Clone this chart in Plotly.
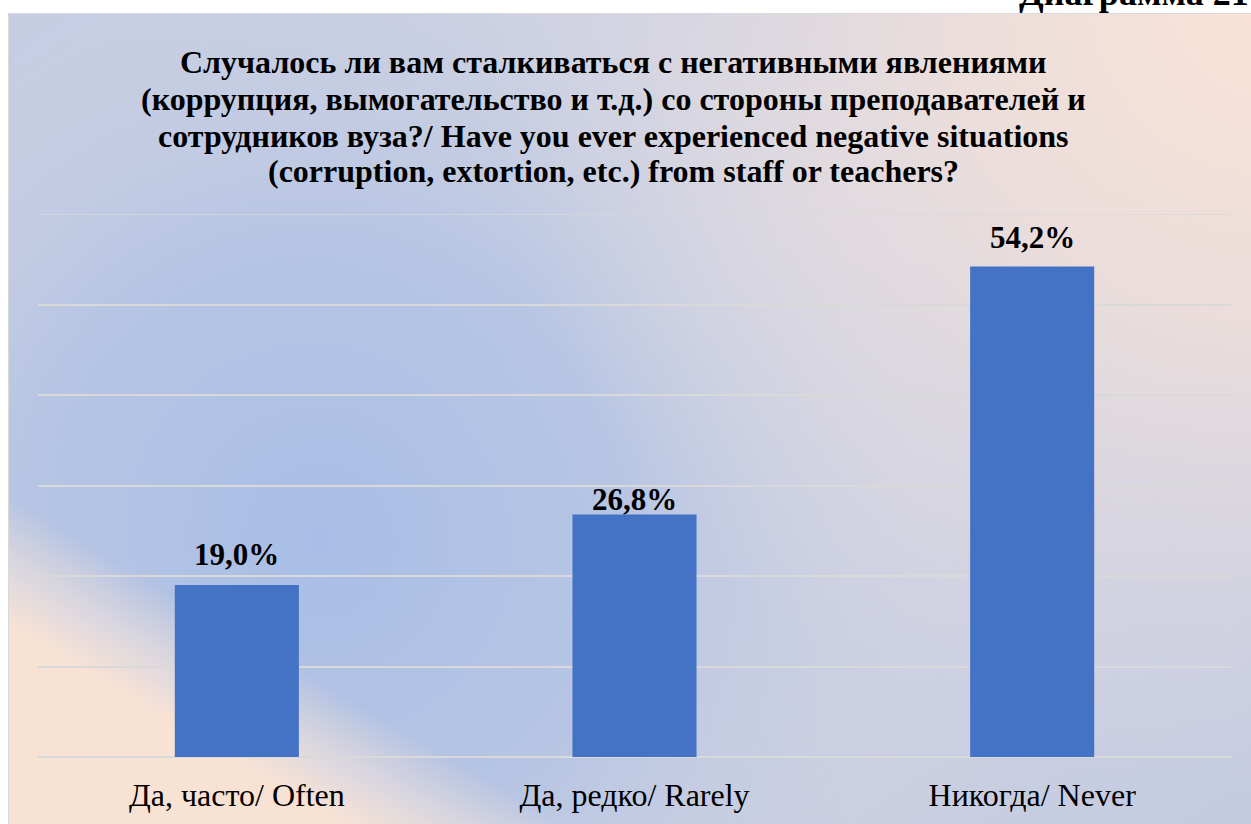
import base64
import plotly.graph_objects as go

# ---- data ----
categories = ["Да, часто/ Often", "Да, редко/ Rarely", "Никогда/ Never"]
values = [19.0, 26.8, 54.2]
grid_values = [0, 10, 20, 30, 40, 50, 60]
title_lines = [
    "Случалось ли вам сталкиваться с негативными явлениями",
    "(коррупция, вымогательство и т.д.) со стороны преподавателей и",
    "сотрудников вуза?/ Have you ever experienced negative situations",
    "(corruption, extortion, etc.) from staff or teachers?",
]
corner_label = "Диаграмма 21"

# style: pixel lift of each value label above its bar
label_lift = [31, 15, 29]

W, H = 1251, 824
L, R, T, B = 38, 20, 214, 67
PW, PH = W - L - R, H - T - B
SERIF = "Liberation Serif, Times New Roman, serif"


def px(x):
    return (x - L) / PW


def py(y):
    return (H - B - y) / PH


# background gradient as SVG (page pixel coordinates)
svg = '''<svg xmlns="http://www.w3.org/2000/svg" width="1243" height="811" viewBox="8 13 1243 811" preserveAspectRatio="none">
<defs>
<radialGradient id="blue" gradientUnits="userSpaceOnUse" cx="320" cy="540" r="600">
<stop offset="0" stop-color="#a8bee6" stop-opacity="1"/>
<stop offset="0.5" stop-color="#afc1e4" stop-opacity="0.8"/>
<stop offset="1" stop-color="#c3cbe2" stop-opacity="0"/>
</radialGradient>
<radialGradient id="peachTR" gradientUnits="userSpaceOnUse" cx="1280" cy="0" r="800">
<stop offset="0" stop-color="#fbe3d5" stop-opacity="1"/>
<stop offset="0.4" stop-color="#f1e0da" stop-opacity="0.8"/>
<stop offset="1" stop-color="#dcd9e2" stop-opacity="0"/>
</radialGradient>
<linearGradient id="peachBL" gradientUnits="userSpaceOnUse" x1="151" y1="581" x2="95" y2="676">
<stop offset="0" stop-color="#f8e2d4" stop-opacity="0"/>
<stop offset="0.6" stop-color="#ede0dc" stop-opacity="0.75"/>
<stop offset="1" stop-color="#f8e2d4" stop-opacity="1"/>
</linearGradient>
<linearGradient id="base" x1="0" y1="0" x2="1" y2="1">
<stop offset="0" stop-color="#c6cde3"/>
<stop offset="0.45" stop-color="#d7d7e2"/>
<stop offset="1" stop-color="#c4cbe1"/>
</linearGradient>
</defs>
<rect x="8" y="13" width="1243" height="811" fill="url(#base)"/>
<rect x="8" y="13" width="1243" height="811" fill="url(#blue)"/>
<rect x="8" y="13" width="1243" height="811" fill="url(#peachTR)"/>
<rect x="8" y="13" width="1243" height="811" fill="url(#peachBL)"/>
</svg>'''
src = "data:image/svg+xml;base64," + base64.b64encode(svg.encode()).decode()

fig = go.Figure()
fig.add_trace(go.Bar(
    x=categories, y=values,
    marker=dict(color="#4472c4", line=dict(width=0)),
    width=0.312,
    hoverinfo="skip",
))

annotations = []
for cat, val, lift in zip(categories, values, label_lift):
    annotations.append(dict(
        x=cat, y=val, xref="x", yref="y",
        text=f"{val:.1f}%".replace(".", ","),
        xanchor="center", yanchor="middle", yshift=lift,
        showarrow=False,
        font=dict(family=SERIF, size=31, color="#000000", weight="bold"),
    ))

centers = [62, 99, 136, 171]
for line, cy in zip(title_lines, centers):
    annotations.append(dict(
        text=line, xref="paper", yref="paper",
        x=px(613), y=py(cy), xanchor="center", yanchor="middle",
        showarrow=False,
        font=dict(family=SERIF, size=32, color="#000000", weight="bold"),
    ))
annotations.append(dict(
    text=corner_label, xref="paper", yref="paper",
    x=px(1017), y=py(15), xanchor="left", yanchor="bottom",
    showarrow=False,
    font=dict(family=SERIF, size=36, color="#000000", weight="bold"),
))

shapes = [dict(
    type="rect", xref="paper", yref="paper",
    x0=px(8.5), x1=px(1260), y0=py(13.5), y1=py(830),
    line=dict(color="#d9d9d9", width=1), layer="below",
)]
# top gridline (Plotly drops a gridline that sits exactly on the range edge)
shapes.append(dict(
    type="line", xref="paper", yref="y", x0=0, x1=1,
    y0=grid_values[-1], y1=grid_values[-1],
    line=dict(color="#d9d9d9", width=1.5), layer="below",
))

fig.update_layout(
    width=W, height=H,
    margin=dict(l=L, r=R, t=T, b=B, pad=0),
    paper_bgcolor="#ffffff",
    plot_bgcolor="rgba(0,0,0,0)",
    showlegend=False,
    images=[dict(
        source=src, xref="paper", yref="paper",
        x=px(8), y=py(13), sizex=(W - 8) / PW, sizey=(H - 13) / PH,
        xanchor="left", yanchor="top", sizing="stretch", layer="below",
    )],
    shapes=shapes,
    annotations=annotations,
    xaxis=dict(
        showgrid=False, showline=False, zeroline=False,
        tickfont=dict(family=SERIF, size=32, color="#000000"),
        ticks="", ticklen=0, automargin=False, ticklabelstandoff=16,
    ),
    yaxis=dict(
        range=[0, 60], tickvals=grid_values, showticklabels=False,
        showgrid=True, gridcolor="#d9d9d9", gridwidth=1.5,
        zeroline=True, zerolinecolor="#d9d9d9", zerolinewidth=1.5,
        showline=False, automargin=False,
    ),
)

fig.write_html(
    "out.html",
    config={"displayModeBar": False},
    post_script="document.body.style.margin='0';document.body.style.padding='0';",
)
